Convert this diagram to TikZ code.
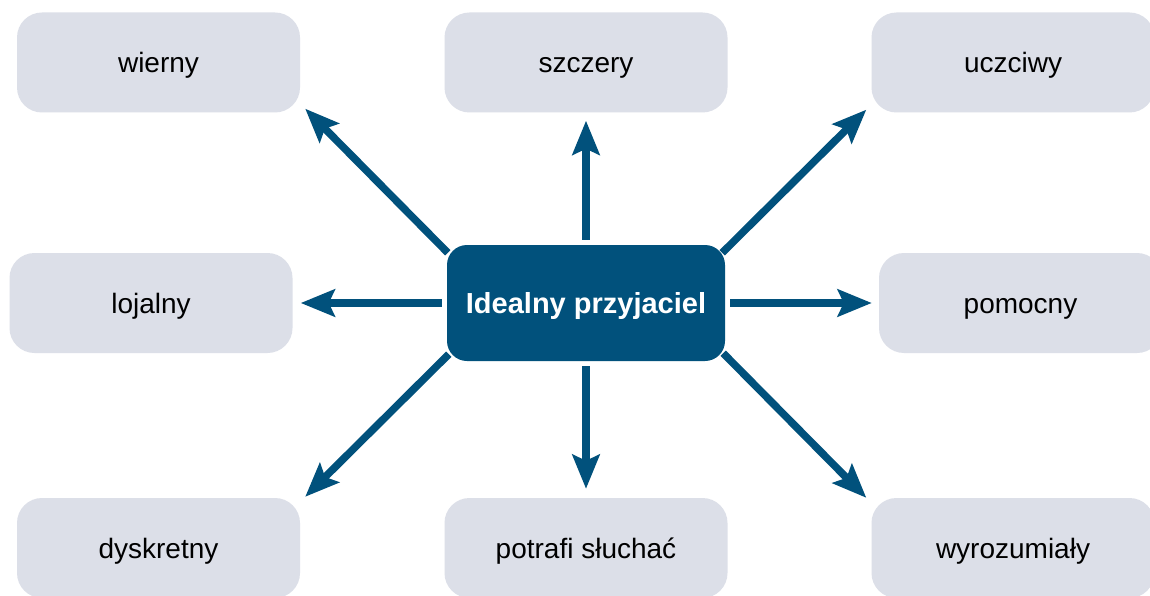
\documentclass[tikz,border=0pt]{standalone}
\usepackage{fontspec}
\setmainfont{Liberation Sans}
\usetikzlibrary{arrows.meta}
\definecolor{friendblue}{HTML}{01517C}
\definecolor{boxgray}{HTML}{DCDFE8}

\begin{document}
\begin{tikzpicture}[x=1pt, y=-1pt]
    \fill[white] (0,0) rectangle (1150,596);
    \useasboundingbox (0,0) rectangle (1150,596);

    \tikzstyle{every node}=[rectangle, rounded corners=25pt, fill=boxgray, minimum width=283pt, minimum height=100pt, text height=20pt, text depth=0pt, font=\fontsize{28}{34}\selectfont, text=black]
    \tikzstyle{edge}=[friendblue, line width=7.5pt, -{Stealth[length=34pt, width=27pt, inset=6pt]}]

    \node (wierny) at (158.5,62.5) {wierny};
    \node (szczery) at (586,62.5) {szczery};
    \node (uczciwy) at (1013,62.5) {uczciwy};
    \node (lojalny) at (151,303) {lojalny};
    \node (pomocny) at (1020.5,303) {pomocny};
    \node (dyskretny) at (158.5,548) {dyskretny};
    \node (sluchac) at (586,548) {potrafi słuchać};
    \node (wyrozumialy) at (1013,548) {wyrozumiały};

    \tikzstyle{every node}=[rectangle, rounded corners=20pt, fill=friendblue, minimum width=278pt, minimum height=116pt, text height=21pt, text depth=0pt, font=\fontsize{29}{34}\selectfont\bfseries, text=white]
    \node (mid) at (586,303) {Idealny przyjaciel};

    % straight arrows
    \draw[edge, shorten <=5pt, shorten >=8pt] (mid) -- (szczery);
    \draw[edge, shorten <=5pt, shorten >=8pt] (mid) -- (lojalny);
    \draw[edge, shorten <=5pt, shorten >=7pt] (mid) -- (pomocny);
    \draw[edge, shorten <=5pt, shorten >=9pt] (mid) -- (sluchac);

    % diagonal arrows
    \draw[edge] ([xshift=1pt,yshift=-8pt]mid.north west) -- ([xshift=5pt,yshift=4pt]wierny.south east);
    \draw[edge] ([xshift=-3pt,yshift=-8pt]mid.north east) -- ([xshift=-5pt,yshift=3pt]uczciwy.south west);
    \draw[edge] ([xshift=2pt,yshift=7pt]mid.south west) -- ([xshift=5pt,yshift=1pt]dyskretny.north east);
    \draw[edge] ([xshift=-2pt,yshift=8pt]mid.south east) -- ([xshift=-5pt,yshift=0pt]wyrozumialy.north west);
\end{tikzpicture}
\end{document}
